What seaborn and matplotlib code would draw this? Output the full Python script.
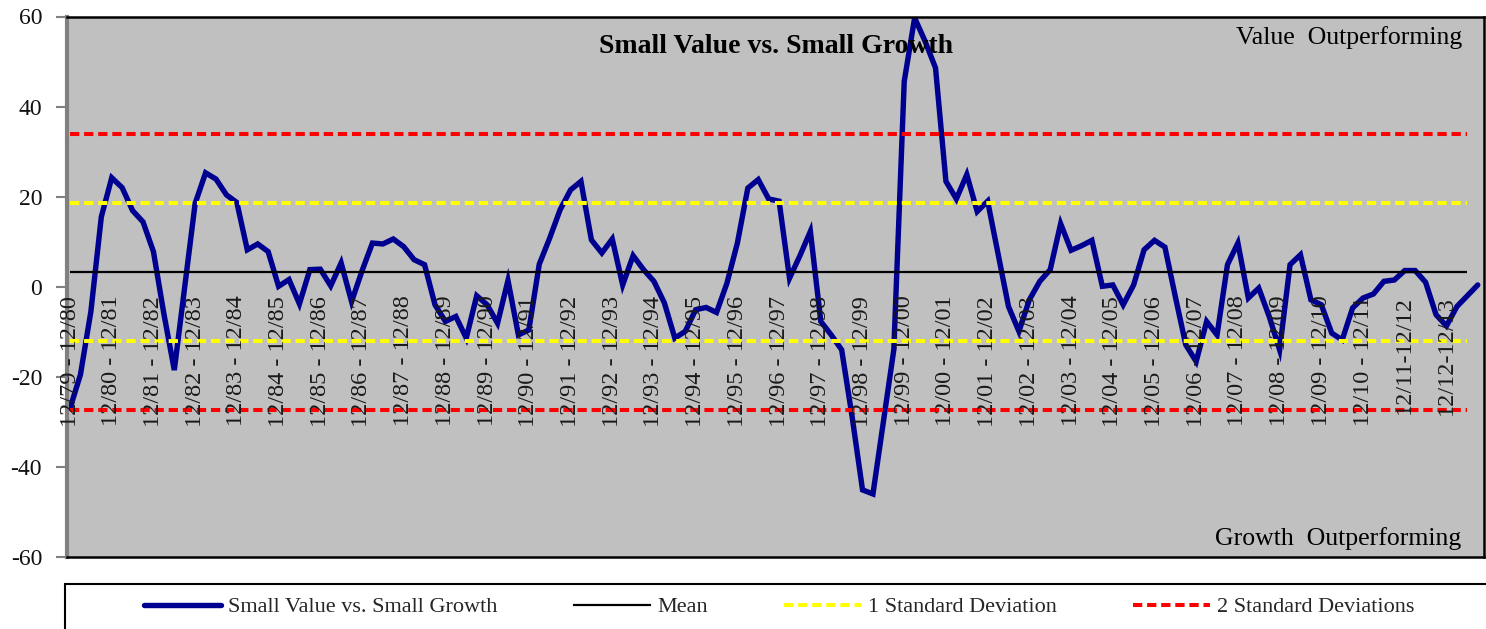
import matplotlib
matplotlib.use("Agg")
import matplotlib.pyplot as plt
from matplotlib.patches import Rectangle
import seaborn as sns
import pandas as pd

# ---------------- data ----------------
series_values = [
    -27.0, -19.5, -5.5, 15.5, 24.2, 22.0, 16.9, 14.4, 7.8, -6.0,
    -18.5, 0.0, 18.5, 25.3, 23.9, 20.4, 18.7, 8.2, 9.5, 7.8,
    0.1, 1.6, -3.8, 3.8, 3.9, 0.2, 5.3, -3.3, 3.5, 9.7,
    9.5, 10.6, 8.9, 6.0, 4.9, -4.0, -7.7, -6.6, -11.4, -2.0,
    -4.0, -8.1, 1.4, -10.7, -9.6, 5.0, 10.8, 17.1, 21.5, 23.4,
    10.4, 7.5, 10.6, 0.4, 6.9, 3.8, 1.2, -3.6, -11.4, -9.9,
    -5.1, -4.6, -5.7, 0.8, 9.7, 21.9, 23.8, 19.5, 19.0, 1.9,
    6.9, 12.3, -7.7, -10.7, -14.0, -28.8, -45.1, -46.0, -30.0, -14.0,
    45.6, 59.7, 54.5, 48.6, 23.4, 19.5, 24.9, 16.7, 19.0, 7.3,
    -4.4, -9.9, -2.9, 1.2, 3.8, 14.0, 8.1, 9.1, 10.3, 0.1,
    0.4, -4.0, 0.4, 8.2, 10.3, 8.8, -2.2, -12.9, -16.6, -7.7,
    -10.7, 4.9, 9.7, -2.5, -0.3, -6.6, -14.0, 4.9, 7.1, -2.9,
    -4.0, -10.3, -11.8, -4.7, -2.5, -1.6, 1.2, 1.5, 3.6, 3.6,
    1.0, -6.2, -8.7, -4.4, -2.0, 0.4,
]
quarter_index = list(range(len(series_values)))

category_labels = [
    "12/79 - 12/80", "12/80 - 12/81", "12/81 - 12/82", "12/82 - 12/83",
    "12/83 - 12/84", "12/84 - 12/85", "12/85 - 12/86", "12/86 - 12/87",
    "12/87 - 12/88", "12/88 - 12/89", "12/89 - 12/90", "12/90 - 12/91",
    "12/91 - 12/92", "12/92 - 12/93", "12/93 - 12/94", "12/94 - 12/95",
    "12/95 - 12/96", "12/96 - 12/97", "12/97 - 12/98", "12/98 - 12/99",
    "12/99 - 12/00", "12/00 - 12/01", "12/01 - 12/02", "12/02 - 12/03",
    "12/03 - 12/04", "12/04 - 12/05", "12/05 - 12/06", "12/06 - 12/07",
    "12/07 - 12/08", "12/08 - 12/09", "12/09 - 12/10", "12/10 - 12/11",
    "12/11-12/12", "12/12-12/13",
]
label_positions = [4 * k for k in range(len(category_labels))]

mean_value = 3.3
one_sd_values = [18.6, -12.0]
two_sd_values = [34.0, -27.4]
band_end = 134

y_ticks = [60, 40, 20, 0, -20, -40, -60]

# ---------------- style ----------------
sns.set_theme(style="white")
plt.rcParams["font.family"] = ["Liberation Serif", "DejaVu Serif"]

W, H = 1486, 629
fig = plt.figure(figsize=(W / 100, H / 100), dpi=100)
fig.patch.set_facecolor("white")
ax = fig.add_axes([67 / W, 1 - 557 / H, (1484 - 67) / W, (557 - 16.5) / H])
ax.set_facecolor("#C0C0C0")

df = pd.DataFrame({"q": quarter_index, "v": series_values})
sns.lineplot(data=df, x="q", y="v", ax=ax, color="#000090", linewidth=3.9,
             solid_joinstyle="miter", label="Small Value vs. Small Growth",
             legend=False)

h_mean = ax.hlines(mean_value, 0, band_end, colors="black", linewidth=1.6,
                   label="Mean")
h1 = None
for v in one_sd_values:
    (h1,) = ax.plot([0, band_end], [v, v], color="#FFFF00", linewidth=2.9,
                    dashes=(2.3, 1.2), label="1 Standard Deviation")
h2 = None
for v in two_sd_values:
    (h2,) = ax.plot([0, band_end], [v, v], color="#FF0000", linewidth=2.9,
                    dashes=(2.3, 1.2), label="2 Standard Deviations")

ax.set_xlim(-0.29, 135.6)
ax.set_ylim(-60, 60)
ax.set_yticks(y_ticks)
ax.set_yticklabels([str(t) for t in y_ticks], fontsize=17, color="#111111")
ax.set_xticks([])
ax.set_xlabel("")
ax.set_ylabel("")
ax.tick_params(axis="y", direction="out", length=8, width=1.5,
               color="#808080", pad=10, left=True)

for s in ["top", "right", "bottom"]:
    ax.spines[s].set_color("black")
    ax.spines[s].set_linewidth(1.8)
ax.spines["left"].set_color("#808080")
ax.spines["left"].set_linewidth(3)

# category labels hanging below the zero line
for pos, lab in zip(label_positions, category_labels):
    ax.annotate(lab, xy=(pos, 0), xytext=(0, -9), textcoords="offset pixels",
                rotation=90, ha="center", va="top", fontsize=17.5,
                color="#1a1a1a")

ax.text(0.5, 0.944, "Small Value vs. Small Growth", transform=ax.transAxes,
        ha="center", va="center", fontsize=20, fontweight="bold",
        color="black")
ax.text(0.985, 0.962, "Value  Outperforming", transform=ax.transAxes,
        ha="right", va="center", fontsize=18.5, color="black")
ax.text(0.984, 0.034, "Growth  Outperforming", transform=ax.transAxes,
        ha="right", va="center", fontsize=18.5, color="black")

# legend box
fig.add_artist(Rectangle((65 / W, -0.05), (1520 - 65) / W, (629 - 584) / H + 0.05,
                         transform=fig.transFigure, facecolor="white",
                         edgecolor="black", linewidth=1.5, clip_on=False))
line_handle = ax.get_lines()[0]
fig.legend([line_handle, h_mean, h1, h2],
           ["Small Value vs. Small Growth", "Mean", "1 Standard Deviation",
            "2 Standard Deviations"],
           loc="center", bbox_to_anchor=(779 / W, 1 - 607 / H), ncol=4,
           frameon=False, fontsize=16, handlelength=3.5, handletextpad=0.3,
           columnspacing=3.4)

fig.savefig("out.png", dpi=100)
